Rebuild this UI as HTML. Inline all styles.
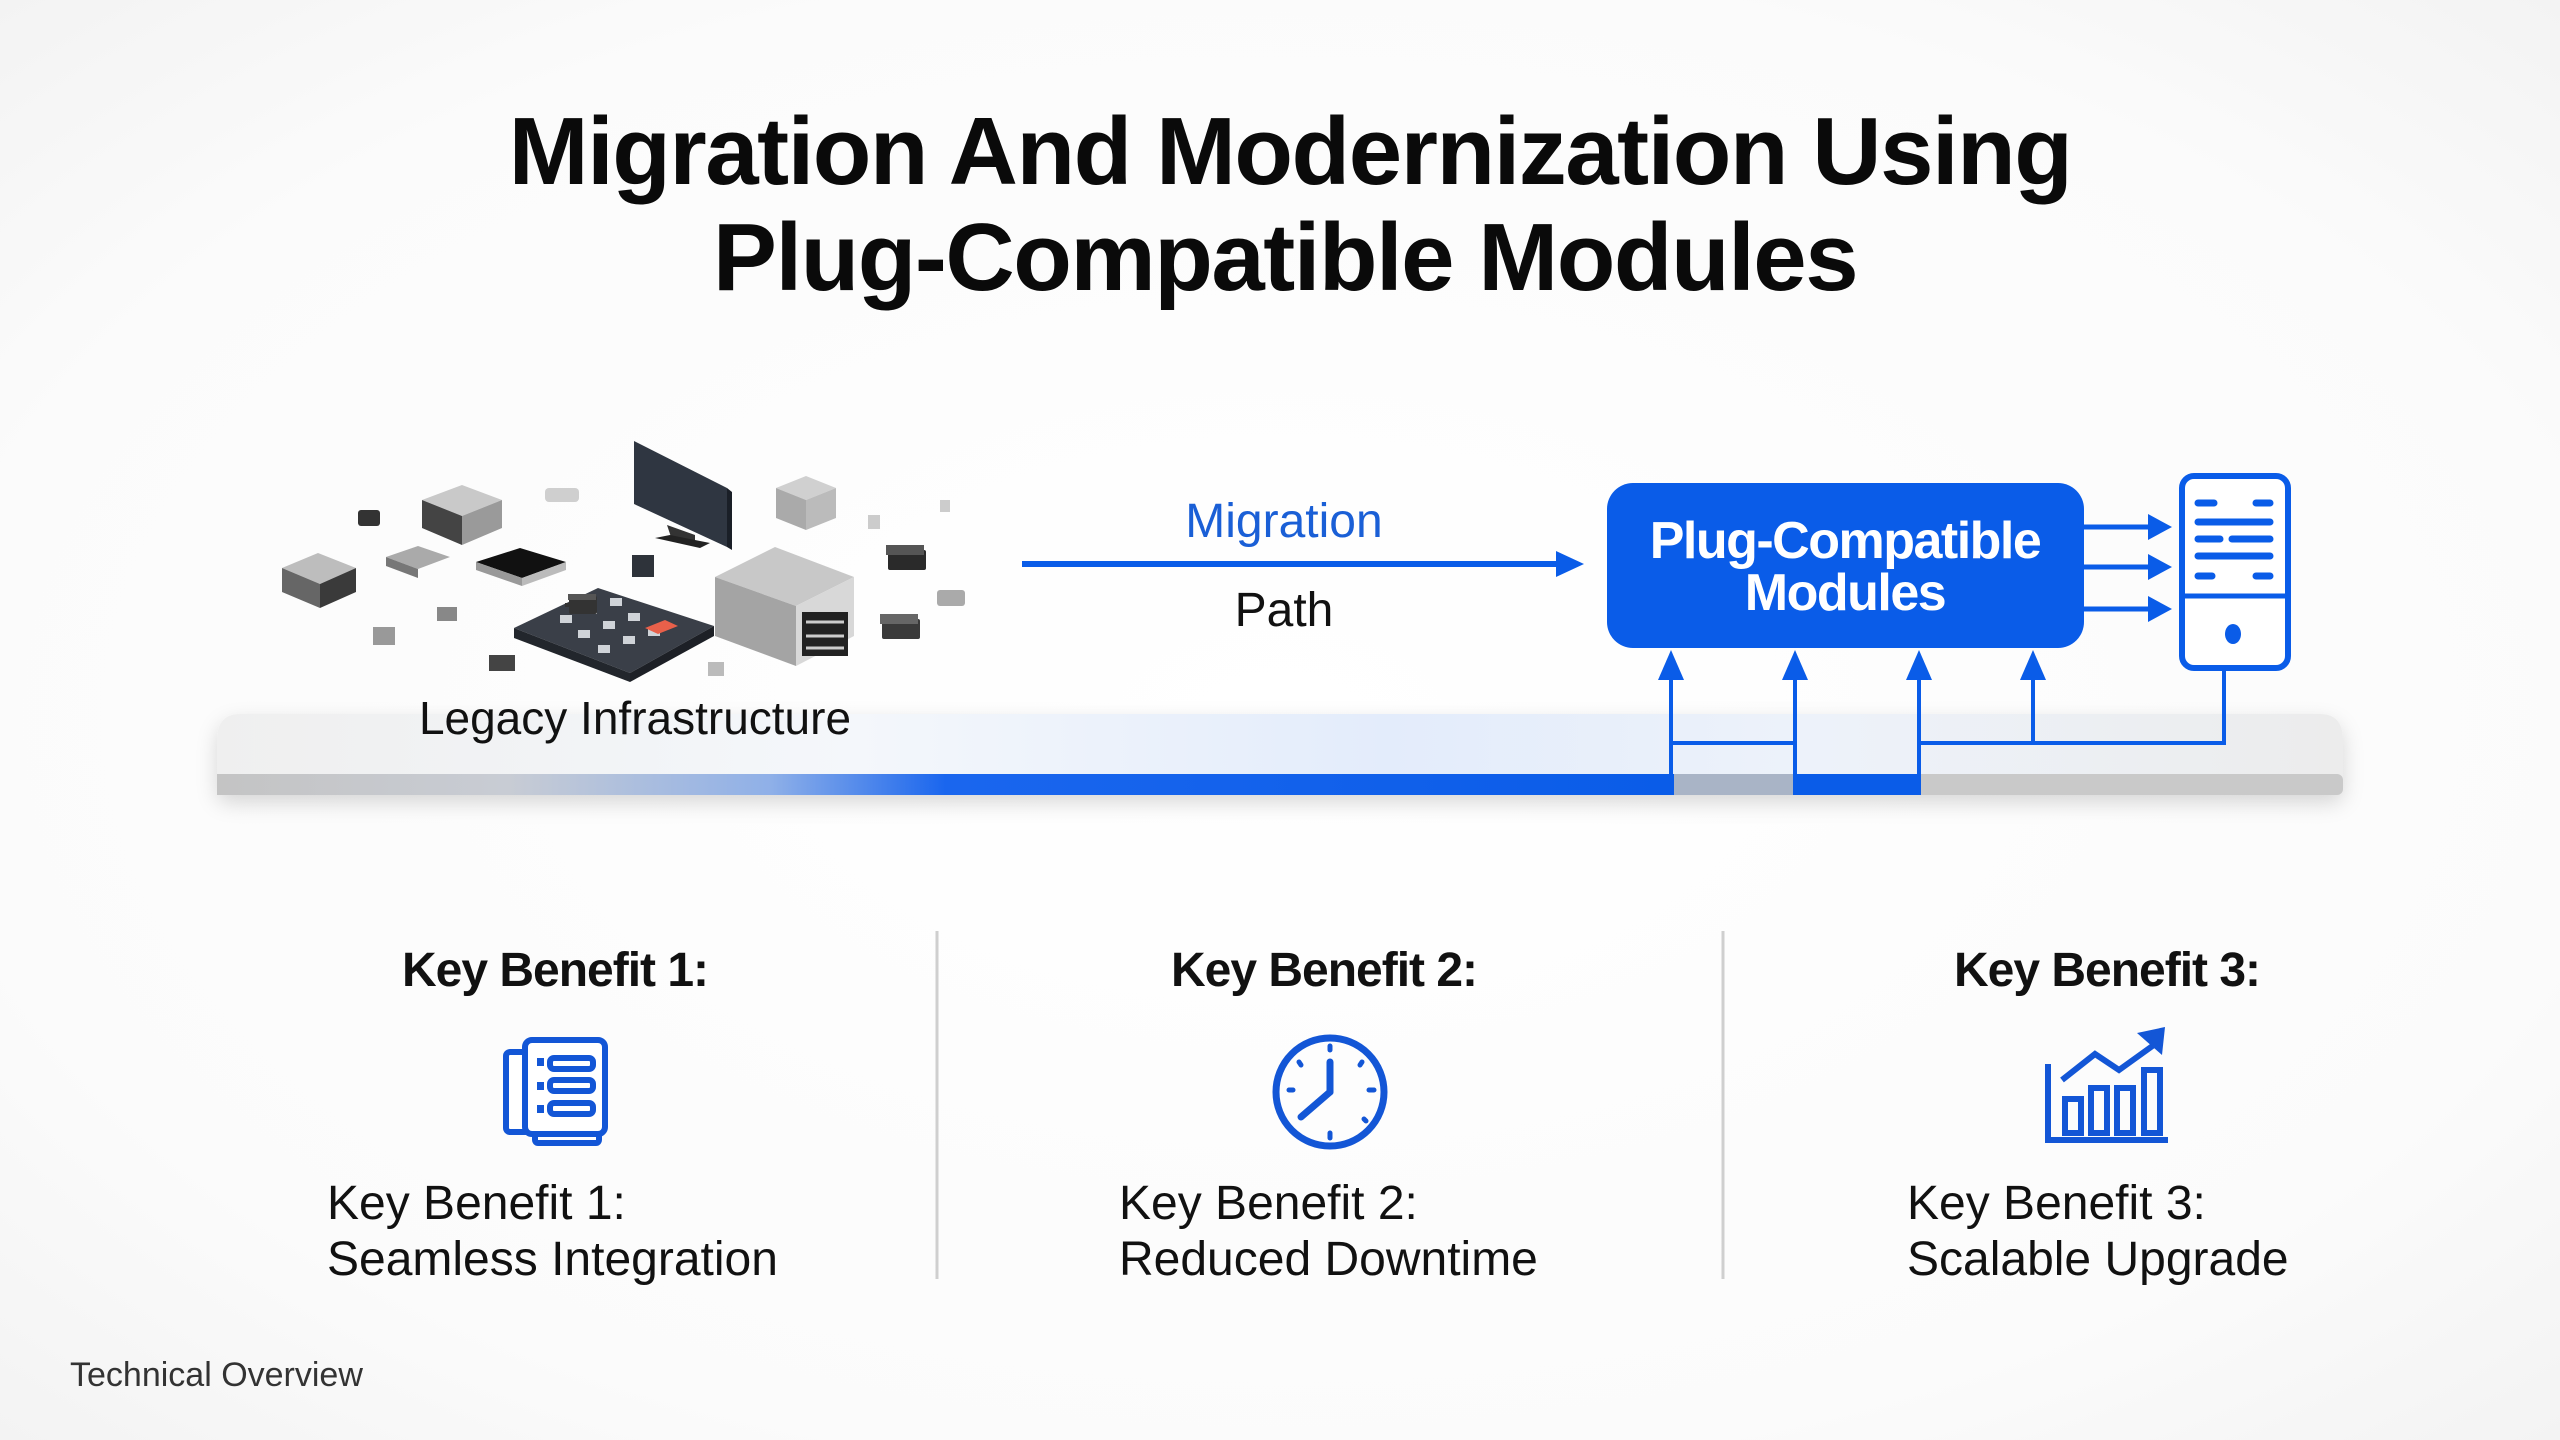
<!DOCTYPE html>
<html><head><meta charset="utf-8"><style>
html,body{margin:0;padding:0;background:#fafafa;}
svg{display:block;}
text{font-family:"Liberation Sans",Arial,sans-serif;}
</style></head><body>
<svg width="2560" height="1440" viewBox="0 0 2560 1440" xmlns="http://www.w3.org/2000/svg">
<defs>
<radialGradient id="bg" cx="50%" cy="50%" r="75%">
<stop offset="0" stop-color="#ffffff"/><stop offset="0.7" stop-color="#fbfbfb"/><stop offset="1" stop-color="#f1f1f1"/>
</radialGradient>
<linearGradient id="top" x1="0" y1="0" x2="1" y2="0">
<stop offset="0" stop-color="#efefef"/><stop offset="0.3" stop-color="#f4f7fb"/><stop offset="0.55" stop-color="#e3ecfb"/><stop offset="0.75" stop-color="#edf2fa"/><stop offset="1" stop-color="#ececec"/>
</linearGradient>
<linearGradient id="edge" x1="0" y1="0" x2="1" y2="0">
<stop offset="0" stop-color="#c4c4c4"/><stop offset="0.2" stop-color="#c8ccd4"/><stop offset="0.38" stop-color="#8fb0e8"/><stop offset="0.5" stop-color="#1a66ee"/><stop offset="1" stop-color="#0a5ce8"/>
</linearGradient>
<filter id="sh" x="-5%" y="-50%" width="110%" height="200%"><feDropShadow dx="0" dy="8" stdDeviation="10" flood-color="#000" flood-opacity="0.15"/></filter>
</defs>
<rect width="2560" height="1440" fill="url(#bg)"/>

<!-- Title -->
<text x="1290" y="184" font-size="96" font-weight="bold" text-anchor="middle" fill="#0a0a0a" letter-spacing="-1.5">Migration And Modernization Using</text>
<text x="1285" y="290" font-size="96" font-weight="bold" text-anchor="middle" fill="#0a0a0a" letter-spacing="-1.5">Plug-Compatible Modules</text>

<!-- Platform -->
<g filter="url(#sh)">
<path d="M240 714 H2320 Q2343 714 2343 740 V785 Q2343 795 2330 795 H232 Q217 795 217 785 V740 Q217 714 240 714Z" fill="url(#top)"/>
</g>
<rect x="217" y="774" width="2126" height="21" rx="6" fill="#c9c9c9"/>
<rect x="217" y="774" width="1457" height="21" fill="url(#edge)"/>
<rect x="1674" y="774" width="119" height="21" fill="#a9b4c6"/>
<rect x="1793" y="774" width="126" height="21" fill="#0a5ce8"/>

<!-- Legacy hardware cluster -->
<g>
<!-- monitor -->
<polygon points="634,441 727,488 727,547 634,504" fill="#2f3641"/>
<polygon points="727,488 732,492 732,550 727,547" fill="#1a1f27"/>
<polygon points="667,525 695,535 695,545 672,540" fill="#333"/>
<polygon points="655,538 700,548 710,543 670,535" fill="#222"/>
<!-- big box -->
<polygon points="715,577 775,547 854,577 796,606" fill="#c8c8c8"/>
<polygon points="715,577 796,606 796,666 715,636" fill="#a4a4a4"/>
<polygon points="796,606 854,577 854,636 796,666" fill="#d8d8d8"/>
<rect x="802" y="612" width="46" height="44" fill="#222"/>
<g stroke="#ccc" stroke-width="3"><line x1="806" y1="622" x2="844" y2="622"/><line x1="806" y1="636" x2="844" y2="636"/><line x1="806" y1="648" x2="844" y2="648"/></g>
<!-- keypad -->
<polygon points="514,628 598,588 714,626 630,673" fill="#3a3f48"/>
<polygon points="514,628 630,673 630,682 514,638" fill="#22262c"/>
<polygon points="630,673 714,626 714,636 630,682" fill="#1d2026"/>
<g fill="#cfd3d8"><rect x="560" y="615" width="12" height="8"/><rect x="585" y="606" width="12" height="8"/><rect x="610" y="598" width="12" height="8"/><rect x="578" y="630" width="12" height="8"/><rect x="603" y="621" width="12" height="8"/><rect x="628" y="613" width="12" height="8"/><rect x="598" y="645" width="12" height="8"/><rect x="623" y="636" width="12" height="8"/><rect x="648" y="628" width="12" height="8"/></g>
<polygon points="645,628 665,620 678,626 658,634" fill="#e8604a"/>
<!-- block left-top -->
<polygon points="422,500 462,485 502,500 462,516" fill="#c9c9c9"/>
<polygon points="422,500 462,516 462,545 422,528" fill="#444"/>
<polygon points="462,516 502,500 502,528 462,545" fill="#9a9a9a"/>
<!-- block left -->
<polygon points="282,568 318,553 356,568 320,584" fill="#bdbdbd"/>
<polygon points="282,568 320,584 320,608 282,592" fill="#666"/>
<polygon points="320,584 356,568 356,592 320,608" fill="#3a3a3a"/>
<!-- chip -->
<polygon points="476,562 520,548 566,562 522,578" fill="#111"/>
<polygon points="476,562 522,578 522,586 476,570" fill="#999"/>
<polygon points="522,578 566,562 566,570 522,586" fill="#bbb"/>
<!-- grid chip -->
<polygon points="386,557 418,546 450,557 418,569" fill="#aaa"/>
<polygon points="386,557 418,569 418,578 386,566" fill="#777"/>
<!-- block right-top -->
<polygon points="776,488 806,476 836,488 806,500" fill="#d0d0d0"/>
<polygon points="776,488 806,500 806,530 776,518" fill="#aaa"/>
<polygon points="806,500 836,488 836,518 806,530" fill="#bbb"/>
<!-- small parts -->
<rect x="358" y="510" width="22" height="16" rx="3" fill="#333"/>
<rect x="545" y="488" width="34" height="14" rx="4" fill="#cfcfcf"/>
<rect x="569" y="596" width="28" height="18" rx="2" fill="#333"/>
<rect x="568" y="594" width="28" height="6" fill="#555"/>
<rect x="575" y="597" width="0" height="0"/>
<rect x="632" y="555" width="22" height="22" fill="#2e333a"/>
<rect x="882" y="619" width="38" height="20" rx="2" fill="#3a3a3a"/>
<rect x="880" y="614" width="38" height="10" fill="#666"/>
<rect x="888" y="550" width="38" height="20" rx="2" fill="#2a2a2a"/>
<rect x="886" y="545" width="38" height="10" fill="#555"/>
<rect x="937" y="590" width="28" height="16" rx="3" fill="#aaa"/>
<rect x="868" y="515" width="12" height="14" fill="#ccc"/>
<rect x="940" y="500" width="10" height="12" fill="#ccc"/>
<rect x="373" y="627" width="22" height="18" fill="#999"/>
<rect x="437" y="607" width="20" height="14" fill="#888"/>
<rect x="489" y="655" width="26" height="16" fill="#444"/>
<rect x="708" y="662" width="16" height="14" fill="#bbb"/>
<rect x="565" y="603" width="4" height="4" fill="#333"/>
</g>
<text x="635" y="734" font-size="46" text-anchor="middle" fill="#111">Legacy Infrastructure</text>

<!-- Migration arrow -->
<text x="1284" y="537" font-size="48" text-anchor="middle" fill="#1a5fd6">Migration</text>
<line x1="1022" y1="564" x2="1560" y2="564" stroke="#0a5ce8" stroke-width="6"/>
<polygon points="1556,551 1584,564 1556,577" fill="#0a5ce8"/>
<text x="1284" y="626" font-size="48" text-anchor="middle" fill="#111">Path</text>

<!-- Blue box -->
<rect x="1607" y="483" width="477" height="165" rx="26" fill="#0a5ce8"/>
<text x="1845" y="558" font-size="52" font-weight="bold" text-anchor="middle" fill="#fff" letter-spacing="-1.5">Plug-Compatible</text>
<text x="1845" y="610" font-size="52" font-weight="bold" text-anchor="middle" fill="#fff" letter-spacing="-1.5">Modules</text>

<!-- right arrows -->
<g stroke="#0a5ce8" stroke-width="5"><line x1="2084" y1="527" x2="2152" y2="527"/><line x1="2084" y1="567" x2="2152" y2="567"/><line x1="2084" y1="609" x2="2152" y2="609"/></g>
<g fill="#0a5ce8"><polygon points="2148,514 2172,527 2148,540"/><polygon points="2148,554 2172,567 2148,580"/><polygon points="2148,596 2172,609 2148,622"/></g>

<!-- server -->
<rect x="2182" y="476" width="106" height="192" rx="12" fill="#fff" stroke="#0a5ce8" stroke-width="6"/>
<line x1="2182" y1="596" x2="2288" y2="596" stroke="#0a5ce8" stroke-width="5"/>
<g stroke="#0a5ce8" stroke-width="7" stroke-linecap="round"><line x1="2198" y1="503" x2="2214" y2="503"/><line x1="2256" y1="503" x2="2270" y2="503"/><line x1="2198" y1="522" x2="2270" y2="522"/><line x1="2198" y1="539" x2="2220" y2="539"/><line x1="2232" y1="539" x2="2270" y2="539"/><line x1="2198" y1="556" x2="2270" y2="556"/><line x1="2198" y1="576" x2="2212" y2="576"/><line x1="2256" y1="576" x2="2270" y2="576"/></g>
<ellipse cx="2233" cy="634" rx="8" ry="10" fill="#0a5ce8"/>

<!-- up arrows & connectors -->
<g stroke="#0a5ce8" stroke-width="4" fill="none">
<line x1="1671" y1="672" x2="1671" y2="795"/>
<line x1="1795" y1="672" x2="1795" y2="795"/>
<line x1="1919" y1="672" x2="1919" y2="795"/>
<line x1="2033" y1="672" x2="2033" y2="743"/>
<line x1="1671" y1="743" x2="1795" y2="743"/>
<polyline points="1919,743 2224,743 2224,668"/>
</g>
<g fill="#0a5ce8">
<polygon points="1671,650 1658,680 1684,680"/>
<polygon points="1795,650 1782,680 1808,680"/>
<polygon points="1919,650 1906,680 1932,680"/>
<polygon points="2033,650 2020,680 2046,680"/>
</g>

<!-- dividers -->
<line x1="937" y1="931" x2="937" y2="1279" stroke="#cfcfcf" stroke-width="3"/>
<line x1="1723" y1="931" x2="1723" y2="1279" stroke="#cfcfcf" stroke-width="3"/>

<!-- Benefits -->
<text x="555" y="986" font-size="48" font-weight="bold" text-anchor="middle" fill="#111" letter-spacing="-1">Key Benefit 1:</text>
<text x="1324" y="986" font-size="48" font-weight="bold" text-anchor="middle" fill="#111" letter-spacing="-1">Key Benefit 2:</text>
<text x="2107" y="986" font-size="48" font-weight="bold" text-anchor="middle" fill="#111" letter-spacing="-1">Key Benefit 3:</text>

<!-- icon 1 -->
<g stroke="#1356d6" stroke-width="6" fill="#fff">
<rect x="506" y="1052" width="26" height="80" rx="4"/>
<rect x="535" y="1132" width="64" height="11" rx="3"/>
<rect x="525" y="1040" width="80" height="94" rx="7"/>
<rect x="550" y="1058" width="43" height="11" rx="4"/>
<rect x="550" y="1080" width="43" height="11" rx="4"/>
<rect x="550" y="1103" width="43" height="11" rx="4"/>
</g>
<g fill="#1356d6"><rect x="537" y="1058" width="7" height="8"/><rect x="537" y="1082" width="7" height="8"/><rect x="537" y="1105" width="7" height="8"/></g>

<!-- icon 2 clock -->
<circle cx="1330" cy="1092" r="54" fill="none" stroke="#1356d6" stroke-width="7"/>
<g stroke="#1356d6" stroke-linecap="round">
<line x1="1330" y1="1062" x2="1330" y2="1092" stroke-width="7"/>
<line x1="1330" y1="1092" x2="1301" y2="1117" stroke-width="7"/>
<g stroke-width="5"><line x1="1330" y1="1046" x2="1330" y2="1050"/><line x1="1330" y1="1133" x2="1330" y2="1138"/><line x1="1289" y1="1090" x2="1293" y2="1090"/><line x1="1369" y1="1090" x2="1374" y2="1090"/><line x1="1299" y1="1062" x2="1301" y2="1065"/><line x1="1362" y1="1062" x2="1360" y2="1065"/><line x1="1364" y1="1119" x2="1366" y2="1121"/></g>
</g>

<!-- icon 3 chart -->
<g stroke="#1356d6" stroke-width="6" fill="none">
<polyline points="2048,1064 2048,1140 2168,1140"/>
<rect x="2065" y="1099" width="16" height="34"/>
<rect x="2091" y="1088" width="16" height="45"/>
<rect x="2117" y="1088" width="16" height="45"/>
<rect x="2144" y="1070" width="16" height="63"/>
<polyline points="2062,1080 2095,1054 2119,1070 2158,1042"/>
</g>
<polygon points="2137,1033 2165,1027 2162,1055" fill="#1356d6"/>

<g font-size="48" fill="#111">
<text x="327" y="1219">Key Benefit 1:</text>
<text x="327" y="1275">Seamless Integration</text>
<text x="1119" y="1219">Key Benefit 2:</text>
<text x="1119" y="1275">Reduced Downtime</text>
<text x="1907" y="1219">Key Benefit 3:</text>
<text x="1907" y="1275">Scalable Upgrade</text>
</g>

<text x="70" y="1386" font-size="34" fill="#333">Technical Overview</text>
</svg>
</body></html>
